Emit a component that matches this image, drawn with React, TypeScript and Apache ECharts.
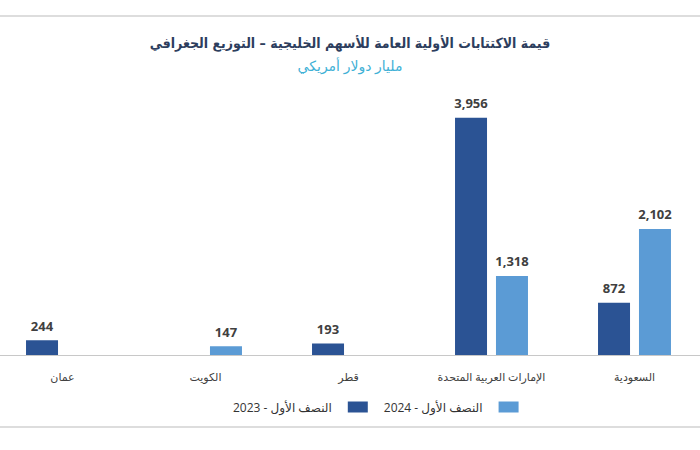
import React, { useEffect, useRef } from "react";
import * as echarts from "echarts";

const categories = ["عمان", "الكويت", "قطر", "الإمارات العربية المتحدة", "السعودية"];
const series2023 = [244, null, 193, 3956, 872];
const series2024 = [null, 147, null, 1318, 2102];
const seriesNames = ["النصف الأول - 2023", "النصف الأول - 2024"];
const titleText = "قيمة الاكتتابات الأولية العامة للأسهم الخليجية – التوزيع الجغرافي";
const subtitleText = "مليار دولار أمريكي";

const FONT = "'Open Sans', 'DejaVu Sans', sans-serif";
const TITLE_FONT = "'DejaVu Sans Condensed', 'DejaVu Sans', sans-serif";
const OFFSET = 9;

export default function App() {
  const ref = useRef<HTMLDivElement>(null);
  useEffect(() => {
    if (!ref.current) return;
    const chart = echarts.init(ref.current, null, { renderer: "svg" });
    const label = {
      show: true,
      position: "top",
      distance: 8,
      color: "#404040",
      fontSize: 13,
      fontWeight: "bold",
      fontFamily: FONT,
      formatter: (p: any) => (p.value == null ? "" : Number(p.value).toLocaleString("en-US")),
    };
    chart.setOption({
      animation: false,
      backgroundColor: "#ffffff",
      title: {
        text: titleText,
        subtext: subtitleText,
        left: "center",
        top: 31,
        itemGap: 8,
        textStyle: { fontSize: 14, fontWeight: "bold", color: "#2d3e5e", fontFamily: TITLE_FONT },
        subtextStyle: { fontSize: 14, color: "#3fb1d6", fontFamily: FONT },
      },
      legend: {
        data: seriesNames,
        top: 396,
        left: 228 + OFFSET,
        align: "right",
        itemWidth: 20,
        itemHeight: 11,
        itemGap: 16,
        icon: "rect",
        textStyle: { fontSize: 12, color: "#333", fontFamily: FONT, padding: [0, 11, 0, 0] },
      },
      grid: { left: 0, width: 715, top: 85, height: 270 },
      xAxis: {
        type: "category",
        data: categories,
        axisLine: { lineStyle: { color: "#c8c8c8", width: 1 } },
        axisTick: { show: false },
        axisLabel: { color: "#404040", fontSize: 11, margin: 16, interval: 0, fontFamily: FONT },
      },
      yAxis: { type: "value", min: 0, max: 4500, show: false, splitLine: { show: false } },
      graphic: [
        { type: "line", shape: { x1: OFFSET, y1: 16, x2: 700 + OFFSET, y2: 16 }, style: { stroke: "#dddddd", lineWidth: 2 } },
        { type: "line", shape: { x1: OFFSET, y1: 427, x2: 700 + OFFSET, y2: 427 }, style: { stroke: "#dddddd", lineWidth: 2 } },
      ],
      series: [
        { name: seriesNames[0], type: "bar", data: series2023, barWidth: 32, barGap: "28%", itemStyle: { color: "#2b5394" }, label },
        { name: seriesNames[1], type: "bar", data: series2024, barWidth: 32, barGap: "28%", itemStyle: { color: "#5b9bd5" }, label },
      ],
    });
    return () => chart.dispose();
  }, []);
  return (
    <div style={{ position: "absolute", left: 0, top: 0, width: 700, height: 450, overflow: "hidden" }}>
      <div ref={ref} style={{ position: "absolute", left: -OFFSET, top: 0, width: 700 + 2 * OFFSET, height: 450 }} />
    </div>
  );
}
